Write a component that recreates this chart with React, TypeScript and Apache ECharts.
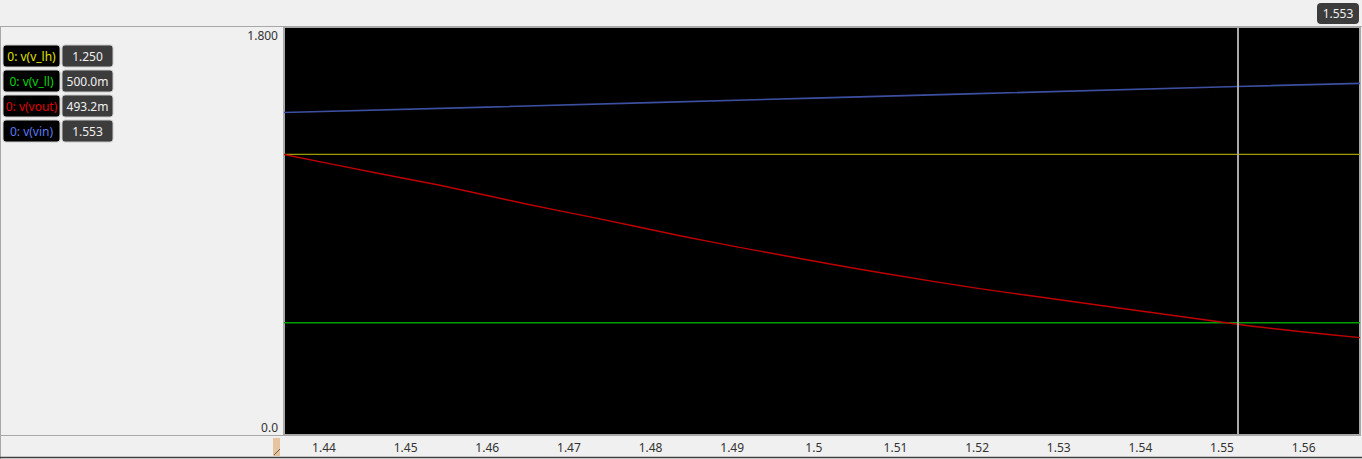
import React, { useEffect, useRef } from "react";
import * as echarts from "echarts";

// Data
const xStart = 1.4351;
const xEnd = 1.5669;
const yMax = 1.818;
const cursorX = 1.5519;

const time = [1.4351, 1.4469, 1.4542, 1.4652, 1.4726, 1.4836, 1.4909, 1.502, 1.5093, 1.5203, 1.5277, 1.5519, 1.5595, 1.5669];
const vout = [1.25, 1.164, 1.113, 1.026, 0.972, 0.888, 0.836, 0.762, 0.716, 0.652, 0.615, 0.4932, 0.461, 0.434];
const vinTime = [1.4351, 1.46, 1.48, 1.5, 1.52, 1.5519, 1.5669];
const vin = [1.437, 1.461, 1.481, 1.501, 1.521, 1.553, 1.567];
const vLh = 1.25;
const vLl = 0.5;

const legendNames = ["0: v(v_lh)", "0: v(v_ll)", "0: v(vout)", "0: v(vin)"];
const legendValues = ["1.250", "500.0m", "493.2m", "1.553"];
const legendTextColors = ["#e0e000", "#00d800", "#e00000", "#5a78f0"];
const lineColors = ["#9c9c00", "#00a000", "#c00000", "#3c4fa0"];
const cursorLabel = "1.553";
const yTickLabels = { bottom: "0.0", top: "1.800" };

const FONT = "Noto Sans";

export default function App() {
  const ref = useRef<HTMLDivElement>(null);
  useEffect(() => {
    document.body.style.margin = "0";
    if (!ref.current) return;
    const chart = echarts.init(ref.current, null, { renderer: "svg" });

    const legendGraphics: any[] = [];
    legendNames.forEach((name, i) => {
      const top = 45 + i * 25;
      legendGraphics.push({
        type: "rect",
        shape: { x: 3, y: top, width: 57, height: 22, r: 3 },
        style: { fill: "#000", stroke: "#c8c8c8", lineWidth: 1 },
      });
      legendGraphics.push({
        type: "text",
        x: 31.5,
        y: top + 11,
        style: { text: name, fill: legendTextColors[i], font: `12px '${FONT}'`, textAlign: "center", textVerticalAlign: "middle" },
      });
      legendGraphics.push({
        type: "rect",
        shape: { x: 62, y: top, width: 51, height: 22, r: 3 },
        style: { fill: "#3c3c3c", stroke: "#c8c8c8", lineWidth: 1 },
      });
      legendGraphics.push({
        type: "text",
        x: 87.5,
        y: top + 11,
        style: { text: legendValues[i], fill: "#f0f0f0", font: `12px '${FONT}'`, textAlign: "center", textVerticalAlign: "middle" },
      });
    });

    const fmtX = (v: number) => String(parseFloat(v.toFixed(2)));

    const option: any = {
      animation: false,
      backgroundColor: "#f0f0f0",
      textStyle: { fontFamily: FONT },
      grid: {
        left: 284,
        right: 2,
        top: 27,
        bottom: 24,
        show: true,
        backgroundColor: "#000",
        borderColor: "#a8a8a8",
        borderWidth: 2,
      },
      xAxis: {
        type: "value",
        min: xStart,
        max: xEnd,
        splitNumber: 13,
        minInterval: 0.01,
        maxInterval: 0.01,
        axisLine: { show: false },
        axisTick: { show: false },
        splitLine: { show: false },
        axisLabel: {
          showMinLabel: false,
          showMaxLabel: false,
          margin: 6,
          color: "#333",
          fontSize: 12,
          fontFamily: FONT,
          formatter: fmtX,
        },
      },
      yAxis: [
        {
          type: "value",
          min: 0,
          max: yMax,
          interval: 0.9,
          axisLine: { show: false },
          axisTick: { show: false },
          splitLine: { show: false },
          axisLabel: {
            showMaxLabel: false,
            margin: 6,
            color: "#333",
            fontSize: 12,
            fontFamily: FONT,
            verticalAlign: "bottom",
            padding: [0, 0, 2, 0],
            formatter: (v: number) => (v === 0 ? yTickLabels.bottom : ""),
          },
        },
        {
          type: "value",
          position: "left",
          min: 0,
          max: yMax,
          interval: 0.9,
          axisLine: { show: false },
          axisTick: { show: false },
          splitLine: { show: false },
          axisLabel: {
            showMaxLabel: false,
            margin: 6,
            color: "#333",
            fontSize: 12,
            fontFamily: FONT,
            verticalAlign: "top",
            lineHeight: 8,
            formatter: (v: number) => (Math.abs(v - 1.8) < 1e-6 ? yTickLabels.top : ""),
          },
        },
      ],
      series: [
        {
          name: legendNames[0],
          type: "line",
          showSymbol: false,
          data: [[xStart, vLh], [xEnd, vLh]],
          lineStyle: { color: lineColors[0], width: 1.3 },
        },
        {
          name: legendNames[1],
          type: "line",
          showSymbol: false,
          data: [[xStart, vLl], [xEnd, vLl]],
          lineStyle: { color: lineColors[1], width: 1.5 },
        },
        {
          name: legendNames[2],
          type: "line",
          showSymbol: false,
          smooth: 0.2,
          data: time.map((t, i) => [t, vout[i]]),
          lineStyle: { color: lineColors[2], width: 1.4 },
        },
        {
          name: legendNames[3],
          type: "line",
          showSymbol: false,
          data: vinTime.map((t, i) => [t, vin[i]]),
          lineStyle: { color: lineColors[3], width: 1.6 },
          markLine: {
            silent: true,
            precision: 6,
            symbol: "none",
            label: { show: false },
            lineStyle: { color: "#a8a8a8", width: 2, type: "solid" },
            data: [{ xAxis: cursorX }],
          },
        },
      ],
      graphic: [
        { type: "line", shape: { x1: 0, y1: 26.5, x2: 1362, y2: 26.5 }, style: { stroke: "#a8a8a8", lineWidth: 1 } },
        { type: "line", shape: { x1: 0.5, y1: 26, x2: 0.5, y2: 459 }, style: { stroke: "#a8a8a8", lineWidth: 1 } },
        { type: "line", shape: { x1: 0, y1: 457.5, x2: 1362, y2: 457.5 }, style: { stroke: "#404040", lineWidth: 1.5 } },
        { type: "line", shape: { x1: 0, y1: 435.5, x2: 284, y2: 435.5 }, style: { stroke: "#a8a8a8", lineWidth: 1 } },
        { type: "rect", shape: { x: 1317, y: 3, width: 42, height: 21, r: 4 }, style: { fill: "#3c3c3c" } },
        {
          type: "text",
          x: 1338,
          y: 13.5,
          style: { text: cursorLabel, fill: "#f0f0f0", font: `12px '${FONT}'`, textAlign: "center", textVerticalAlign: "middle" },
        },
        { type: "rect", shape: { x: 273, y: 438, width: 7, height: 18 }, style: { fill: "#e6c4a0" } },
        { type: "line", shape: { x1: 274, y1: 455, x2: 280, y2: 449 }, style: { stroke: "#6a5a4a", lineWidth: 1 } },
        ...legendGraphics,
      ],
    };
    chart.setOption(option);
    return () => chart.dispose();
  }, []);
  return <div ref={ref} style={{ width: 1362, height: 459 }} />;
}
